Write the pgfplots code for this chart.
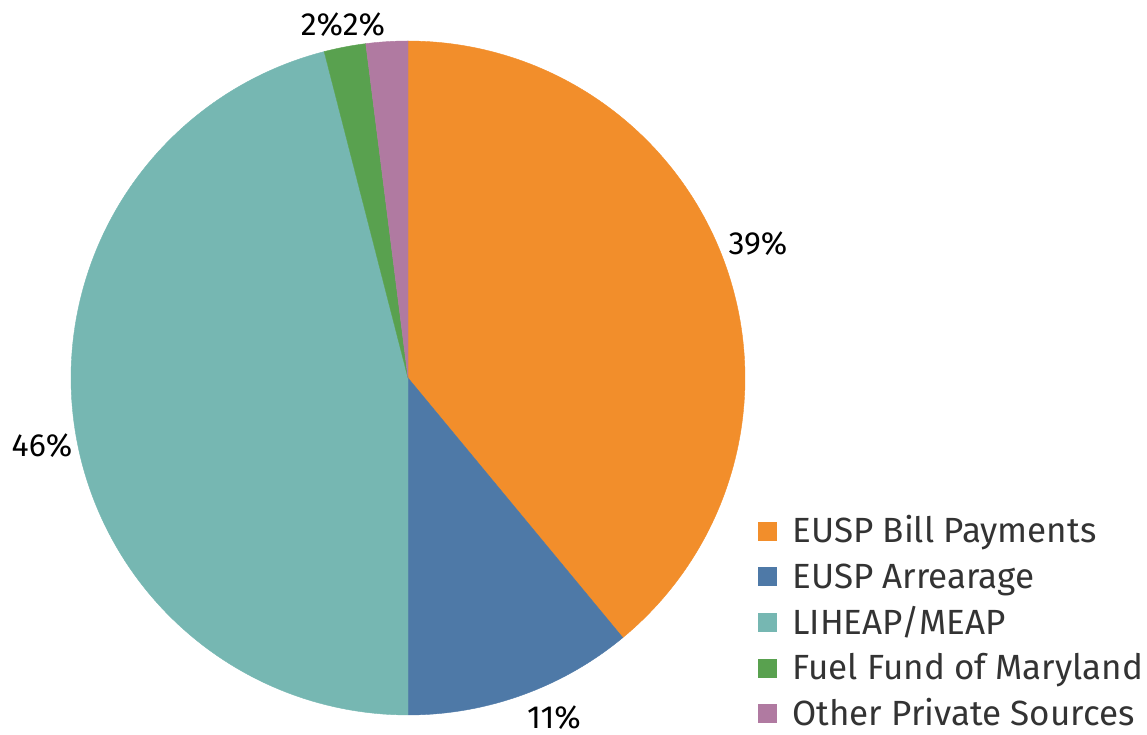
\documentclass[border=0pt]{standalone}
\usepackage{pgfplots}
\pgfplotsset{compat=1.18}
\usepackage{fontspec}
\setmainfont{Fira Sans}

\definecolor{cOrange}{HTML}{F28E2B}
\definecolor{cBlue}{HTML}{4E79A7}
\definecolor{cTeal}{HTML}{76B7B2}
\definecolor{cGreen}{HTML}{59A14F}
\definecolor{cPink}{HTML}{B07AA1}
\definecolor{legtext}{HTML}{333333}

% pie slice: #1 = share before it (%), #2 = its share (%), #3 = colour
% clockwise from 12 o'clock, centre (408,357), radius 337
\newcommand{\slice}[3]{%
  \addplot[fill=#3, draw=#3, line width=0.4pt, samples=120,
    domain=90-3.6*(#1+#2):90-3.6*(#1)]
    ({408+337*cos(x)}, {357+337*sin(x)}) -- (axis cs:408,357) -- cycle;
}

\begin{document}
\begin{tikzpicture}
\begin{axis}[
    x=1pt, y=1pt,
    xmin=0, xmax=1147, ymin=0, ymax=735,
    hide axis, clip=false,
    legend image code/.code={\fill[#1] (0pt,-6pt) rectangle (18pt,12pt);},
    legend style={at={(axis cs:758,218)}, anchor=north west,
      draw=none, fill=none, inner sep=0pt, outer sep=0pt,
      font=\fontsize{35}{40}\selectfont, text=legtext,
      row sep=11.6pt, cells={anchor=west},
      /tikz/every odd column/.append style={column sep=16pt},
      nodes={inner sep=0pt, text height=26pt, text depth=8pt}},
]
\slice{0}{39}{cOrange}
\addlegendentry{EUSP Bill Payments}
\slice{39}{11}{cBlue}
\addlegendentry{EUSP Arrearage}
\slice{50}{46}{cTeal}
\addlegendentry{LIHEAP/MEAP}
\slice{96}{2}{cGreen}
\addlegendentry{Fuel Fund of Maryland}
\slice{98}{2}{cPink}
\addlegendentry{Other Private Sources}

\begin{scope}[font=\fontsize{32}{36}\selectfont, every node/.style={inner sep=0pt}]
\node at (axis cs:758,491) {39\%};
\node at (axis cs:554,17) {11\%};
\node at (axis cs:42,289) {46\%};
\node at (axis cs:322,710) {2\%};
\node at (axis cs:364,710) {2\%};
\end{scope}
\end{axis}
\pgfresetboundingbox
\useasboundingbox (0,0) rectangle (1147pt,735pt);
\end{tikzpicture}
\end{document}
